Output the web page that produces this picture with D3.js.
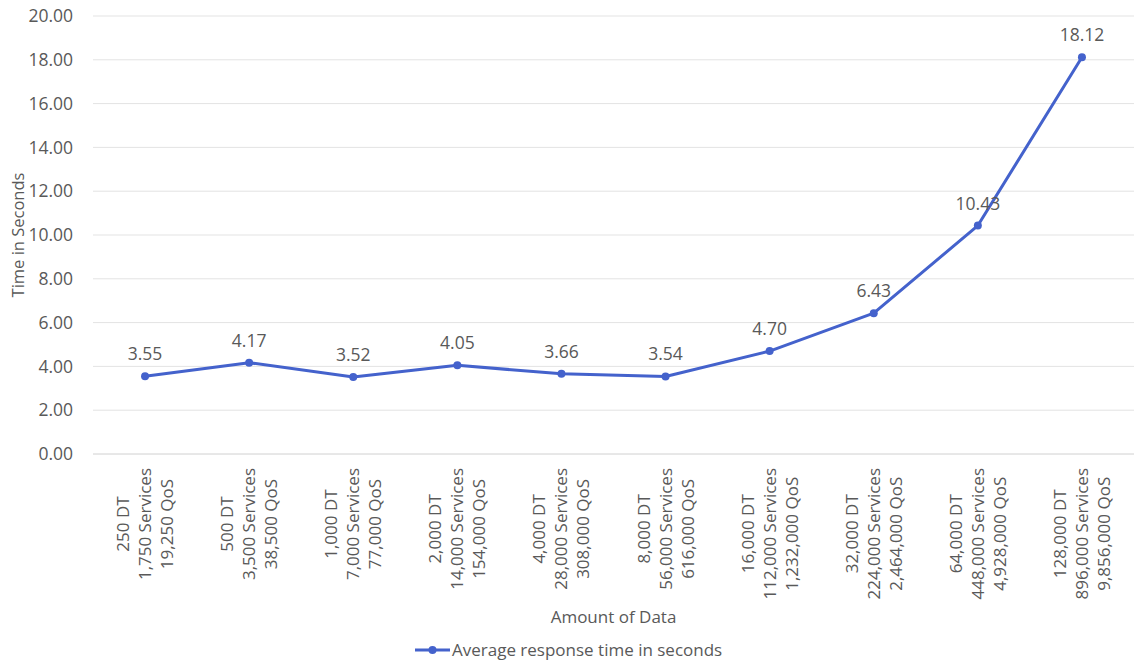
<!DOCTYPE html>
<html>
<head>
<meta charset="utf-8">
<script src="https://cdn.jsdelivr.net/npm/d3@7/dist/d3.min.js"></script>
<style>
  html, body { margin: 0; padding: 0; background: #fff; }
  svg { display: block; }
  text { font-family: "Open Sans", "Noto Sans", sans-serif; fill: #595959; }
</style>
</head>
<body>
<svg id="chart" width="1134" height="662"></svg>
<script>
const categoriesDT = ["250 DT", "500 DT", "1,000 DT", "2,000 DT", "4,000 DT", "8,000 DT", "16,000 DT", "32,000 DT", "64,000 DT", "128,000 DT"];
const categoriesServices = ["1,750 Services", "3,500 Services", "7,000 Services", "14,000 Services", "28,000 Services", "56,000 Services", "112,000 Services", "224,000 Services", "448,000 Services", "896,000 Services"];
const categoriesQoS = ["19,250 QoS", "38,500 QoS", "77,000 QoS", "154,000 QoS", "308,000 QoS", "616,000 QoS", "1,232,000 QoS", "2,464,000 QoS", "4,928,000 QoS", "9,856,000 QoS"];
const responseTimes = [3.55, 4.17, 3.52, 4.05, 3.66, 3.54, 4.70, 6.43, 10.43, 18.12];
const yTicks = [0, 2, 4, 6, 8, 10, 12, 14, 16, 18, 20];
const seriesName = "Average response time in seconds";
const xTitle = "Amount of Data";
const yTitle = "Time in Seconds";

const W = 1134, H = 662;
const margin = { left: 93, right: 0, top: 16, bottom: 208 };
const lineColor = "#4462cc";
const fontSize = 17;

const svg = d3.select("#chart");
const idx = d3.range(categoriesDT.length);
const x = d3.scalePoint().domain(idx).range([margin.left, W - margin.right]).padding(0.5);
const y = d3.scaleLinear().domain([0, 20]).range([H - margin.bottom, margin.top]);

// gridlines
svg.append("g")
  .selectAll("line")
  .data(yTicks)
  .join("line")
  .attr("x1", margin.left).attr("x2", W - margin.right)
  .attr("y1", d => y(d)).attr("y2", d => y(d))
  .attr("stroke", d => d === 0 ? "#d0d0d0" : "#e3e3e3")
  .attr("stroke-width", 1);

// y axis labels
const yAxis = d3.axisLeft(y).tickValues(yTicks).tickFormat(d3.format(".2f")).tickSize(0).tickPadding(20);
const gy = svg.append("g").attr("transform", `translate(${margin.left},0)`).call(yAxis);
gy.select(".domain").remove();
gy.selectAll("text").style("font-family", '"Open Sans", sans-serif').style("font-size", "17.5px").attr("fill", "#595959");

// y title
svg.append("text")
  .attr("transform", `translate(24,${(y(0) + y(20)) / 2}) rotate(-90)`)
  .attr("text-anchor", "middle")
  .style("font-size", "16.5px")
  .text(yTitle);

// x labels (3 lines rotated -90, centered block, top of longest line near axis)
const labelTop = y(0) + 14;
const lineGap = 22;
idx.forEach(i => {
  const lines = [categoriesDT[i], categoriesServices[i], categoriesQoS[i]];
  const g = svg.append("g");
  const texts = lines.map((t, k) => g.append("text")
    .style("font-size", fontSize + "px")
    .attr("text-anchor", "middle")
    .text(t));
  const maxW = d3.max(texts, t => t.node().getComputedTextLength());
  const cy = labelTop + maxW / 2;
  texts.forEach((t, k) => {
    const cx = x(i) + (k - 1) * lineGap;
    t.attr("transform", `translate(${cx + 6},${cy}) rotate(-90)`);
  });
});

// x title
svg.append("text")
  .attr("x", (margin.left + W - margin.right) / 2)
  .attr("y", 623)
  .attr("text-anchor", "middle")
  .style("font-size", fontSize + "px")
  .text(xTitle);

// line
const line = d3.line().x((d, i) => x(i)).y(d => y(d));
svg.append("path")
  .datum(responseTimes)
  .attr("fill", "none")
  .attr("stroke", lineColor)
  .attr("stroke-width", 3)
  .attr("stroke-linejoin", "round")
  .attr("d", line);

svg.append("g")
  .selectAll("circle")
  .data(responseTimes)
  .join("circle")
  .attr("cx", (d, i) => x(i))
  .attr("cy", d => y(d))
  .attr("r", 4)
  .attr("fill", lineColor);

// data labels
svg.append("g")
  .selectAll("text")
  .data(responseTimes)
  .join("text")
  .attr("x", (d, i) => x(i))
  .attr("y", d => y(d) - 16)
  .attr("text-anchor", "middle")
  .style("font-size", "17.5px")
  .attr("fill", "#404040")
  .text(d => d3.format(".2f")(d));

// legend
const legend = svg.append("g").attr("transform", "translate(415,650)");
legend.append("line").attr("x1", 0).attr("x2", 35).attr("y1", 0).attr("y2", 0)
  .attr("stroke", lineColor).attr("stroke-width", 3);
legend.append("circle").attr("cx", 17.5).attr("cy", 0).attr("r", 4).attr("fill", lineColor);
legend.append("text").attr("x", 37).attr("y", 6)
  .style("font-size", fontSize + "px")
  .text(seriesName);
</script>
</body>
</html>
